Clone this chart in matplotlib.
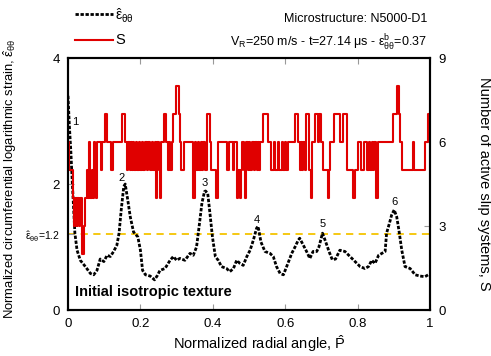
import numpy as np
import matplotlib
matplotlib.use('Agg')
import matplotlib.pyplot as plt
from matplotlib.lines import Line2D

plt.rcParams['font.family'] = ['Liberation Sans', 'DejaVu Sans']
plt.rcParams['mathtext.fontset'] = 'custom'
plt.rcParams['mathtext.rm'] = 'Liberation Sans'
plt.rcParams['mathtext.it'] = 'Liberation Sans:italic'
plt.rcParams['mathtext.bf'] = 'Liberation Sans:bold'

# normalized circumferential strain along the ring
p_eps = [0.000, 0.004, 0.008, 0.011, 0.019, 0.025, 0.034, 0.048, 0.062, 0.071,
         0.080, 0.089, 0.099, 0.108, 0.117, 0.126, 0.135, 0.141, 0.147, 0.154,
         0.158, 0.165, 0.172, 0.181, 0.193, 0.200, 0.206, 0.214, 0.227, 0.239,
         0.247, 0.254, 0.268, 0.282, 0.291, 0.300, 0.309, 0.323, 0.337, 0.346,
         0.355, 0.362, 0.370, 0.377, 0.380, 0.386, 0.392, 0.399, 0.407, 0.415,
         0.424, 0.438, 0.447, 0.457, 0.466, 0.475, 0.484, 0.494, 0.503, 0.512,
         0.521, 0.525, 0.533, 0.544, 0.558, 0.567, 0.576, 0.586, 0.595, 0.604,
         0.618, 0.627, 0.636, 0.640, 0.650, 0.659, 0.668, 0.677, 0.687, 0.693,
         0.703, 0.712, 0.721, 0.730, 0.739, 0.751, 0.765, 0.779, 0.793, 0.807,
         0.820, 0.830, 0.839, 0.848, 0.858, 0.867, 0.876, 0.880, 0.888, 0.894,
         0.901, 0.908, 0.914, 0.922, 0.931, 0.945, 0.959, 0.972, 0.986, 0.995]
eps = [3.40, 2.90, 2.50, 2.12, 1.22, 0.95, 0.79, 0.69, 0.58, 0.56,
       0.63, 0.81, 0.77, 0.87, 0.85, 0.93, 1.03, 1.22, 1.59, 1.96,
       2.00, 1.75, 1.48, 1.24, 1.16, 0.95, 0.63, 0.56, 0.54, 0.48,
       0.55, 0.63, 0.66, 0.79, 0.85, 0.79, 0.82, 0.79, 0.90, 0.87,
       1.00, 1.32, 1.70, 1.88, 1.89, 1.85, 1.54, 1.16, 0.85, 0.79,
       0.69, 0.66, 0.61, 0.66, 0.79, 0.74, 0.71, 0.85, 0.95, 1.11,
       1.30, 1.33, 1.08, 0.93, 0.90, 0.85, 0.69, 0.58, 0.56, 0.69,
       0.90, 1.00, 1.11, 1.14, 1.03, 0.93, 0.82, 0.93, 0.93, 1.00,
       1.22, 1.08, 0.93, 0.80, 0.81, 0.95, 0.93, 0.85, 0.77, 0.69,
       0.66, 0.69, 0.79, 0.74, 0.87, 0.90, 0.93, 1.22, 1.38, 1.51,
       1.59, 1.48, 1.27, 0.95, 0.69, 0.66, 0.56, 0.54, 0.53, 0.56]

# number of active slip systems (step changes)
p_s = [0.000, 0.004, 0.014, 0.017, 0.019, 0.024, 0.026, 0.031, 0.033, 0.040,
       0.043, 0.046, 0.052, 0.056, 0.059, 0.062, 0.065, 0.068, 0.071, 0.074,
       0.077, 0.081, 0.090, 0.094, 0.101, 0.108, 0.118, 0.123, 0.149, 0.158,
       0.163, 0.166, 0.170, 0.173, 0.176, 0.180, 0.183, 0.187, 0.190, 0.195,
       0.199, 0.204, 0.208, 0.213, 0.217, 0.222, 0.226, 0.231, 0.235, 0.240,
       0.244, 0.247, 0.252, 0.255, 0.258, 0.266, 0.272, 0.276, 0.279, 0.283,
       0.286, 0.291, 0.298, 0.307, 0.310, 0.313, 0.320, 0.345, 0.350, 0.354,
       0.358, 0.362, 0.366, 0.370, 0.374, 0.378, 0.384, 0.392, 0.396, 0.409,
       0.413, 0.440, 0.444, 0.455, 0.459, 0.466, 0.470, 0.474, 0.477, 0.481,
       0.485, 0.489, 0.492, 0.496, 0.500, 0.504, 0.507, 0.514, 0.517, 0.521,
       0.524, 0.528, 0.531, 0.540, 0.552, 0.560, 0.569, 0.572, 0.580, 0.583,
       0.591, 0.594, 0.600, 0.603, 0.608, 0.627, 0.636, 0.640, 0.643, 0.647,
       0.650, 0.654, 0.658, 0.667, 0.670, 0.675, 0.681, 0.690, 0.694, 0.698,
       0.705, 0.717, 0.721, 0.724, 0.735, 0.751, 0.759, 0.770, 0.788, 0.793,
       0.800, 0.809, 0.818, 0.827, 0.831, 0.835, 0.839, 0.842, 0.846, 0.850,
       0.857, 0.897, 0.908, 0.915, 0.918, 0.922, 0.953, 0.957, 0.966, 0.985,
       0.994, 1.000]
s_val = [6, 5, 4, 3, 4, 3, 4, 3, 4, 2,
         3, 4, 5, 4, 6, 4, 5, 4, 6, 5,
         4, 6, 5, 6, 7, 6, 5, 6, 7, 6,
         5, 6, 5, 6, 5, 6, 5, 6, 5, 6,
         5, 6, 5, 6, 5, 6, 5, 6, 5, 6,
         4, 6, 5, 4, 6, 7, 6, 5, 6, 5,
         6, 7, 8, 7, 6, 5, 6, 4, 6, 5,
         6, 5, 6, 5, 6, 5, 7, 6, 5, 4,
         6, 5, 6, 5, 6, 4, 5, 4, 5, 6,
         5, 4, 6, 5, 6, 5, 6, 5, 6, 5,
         6, 5, 6, 7, 6, 5, 6, 5, 6, 5,
         6, 5, 6, 5, 6, 7, 6, 5, 6, 5,
         6, 5, 7, 5, 4, 6, 7, 6, 7, 6,
         5, 4, 5, 6, 7, 6, 7, 5, 4, 5,
         6, 5, 6, 5, 6, 5, 6, 5, 6, 4,
         6, 7, 8, 7, 6, 5, 6, 5, 5, 6,
         7, 7]

peak_ids = ['1', '2', '3', '4', '5', '6']
peak_p = [0.020, 0.149, 0.378, 0.521, 0.703, 0.903]
peak_y = [2.99, 2.09, 2.02, 1.43, 1.36, 1.72]

eps_thr = 1.2

eps_dash = (0, (1.2, 0.6))
red = '#e00000'

fig = plt.figure(figsize=(4.91, 3.56), dpi=100)
ax = fig.add_axes([0.1385, 0.129, 0.7373, 0.708])
ax2 = ax.twinx()

ax.axhline(eps_thr, color='#f5c400', lw=1.3, ls=(0, (4, 3)), zorder=1)
ax.plot(p_eps, eps, color='k', lw=2.0, ls=eps_dash, zorder=3)
for t, px, py in zip(peak_ids, peak_p, peak_y):
    ax.text(px, py, t, fontsize=8, ha='center', va='center')
ax.text(0.02, 0.28, 'Initial isotropic texture', fontsize=10.5, fontweight='bold',
        va='center', ha='left')

ax2.step(p_s, s_val, where='post', color=red, lw=1.5, zorder=2)

ax.set_xlim(0, 1)
ax.set_ylim(0, 4)
ax2.set_ylim(0, 9)
ax.set_xticks([0, 0.2, 0.4, 0.6, 0.8, 1])
ax.set_xticklabels(['0', '0.2', '0.4', '0.6', '0.8', '1'])
ax.set_yticks([0, eps_thr, 2, 4])
ax.set_yticklabels(['0', r'$\hat{\mathrm{ε}}_{\mathrm{θθ}}$=1.2', '2', '4'])
ax2.set_yticks([0, 3, 6, 9])

for a in (ax, ax2):
    a.tick_params(direction='in', length=4, color='#999999', labelsize=9.5, pad=6)
    for sp in a.spines.values():
        sp.set_linewidth(1.5)
ax.tick_params(top=True, right=False)
ax.get_yticklabels()[1].set_fontsize(7.5)

ax.set_xlabel(r'Normalized radial angle, $\hat{\mathrm{P}}$', fontsize=10.5, va='center')
ax.xaxis.set_label_coords(0.53, -0.131)
ax.set_ylabel(r'Normalized circumferential logarithmic strain, $\hat{\mathrm{ε}}_{\mathrm{θθ}}$',
              fontsize=9.4, va='center')
ax.yaxis.set_label_coords(-0.16, 0.52)
ax2.set_ylabel('Number of active slip systems, S', fontsize=10.5, rotation=270, va='center')
ax2.yaxis.set_label_coords(1.149, 0.5)

fig.text(0.87, 0.947, 'Microstructure: N5000-D1', fontsize=9, ha='right', va='center')
fig.text(0.87, 0.879,
         r'V$_{\mathrm{R}}$=250 m/s - t=27.14 μs - ε$^{\mathrm{b}}_{\mathrm{θθ}}$=0.37',
         fontsize=9, ha='right', va='center')

# legend entries above the axes
leg_y = [1 - 14 / 356, 1 - 40 / 356]
leg_x0, leg_x1 = 75 / 491, 113 / 491
fig.add_artist(Line2D([leg_x0, leg_x1], [leg_y[0]] * 2, color='k', lw=2.0, ls=eps_dash,
                      transform=fig.transFigure))
fig.add_artist(Line2D([leg_x0, leg_x1], [leg_y[1]] * 2, color=red, lw=1.5,
                      transform=fig.transFigure))
fig.text(leg_x1 + 0.004, leg_y[0] - 0.005, r'$\hat{\mathrm{ε}}_{\mathrm{θθ}}$', fontsize=10,
         ha='left', va='center')
fig.text(leg_x1 + 0.004, leg_y[1], 'S', fontsize=10.5, ha='left', va='center')

fig.savefig('out.png', dpi=100)
